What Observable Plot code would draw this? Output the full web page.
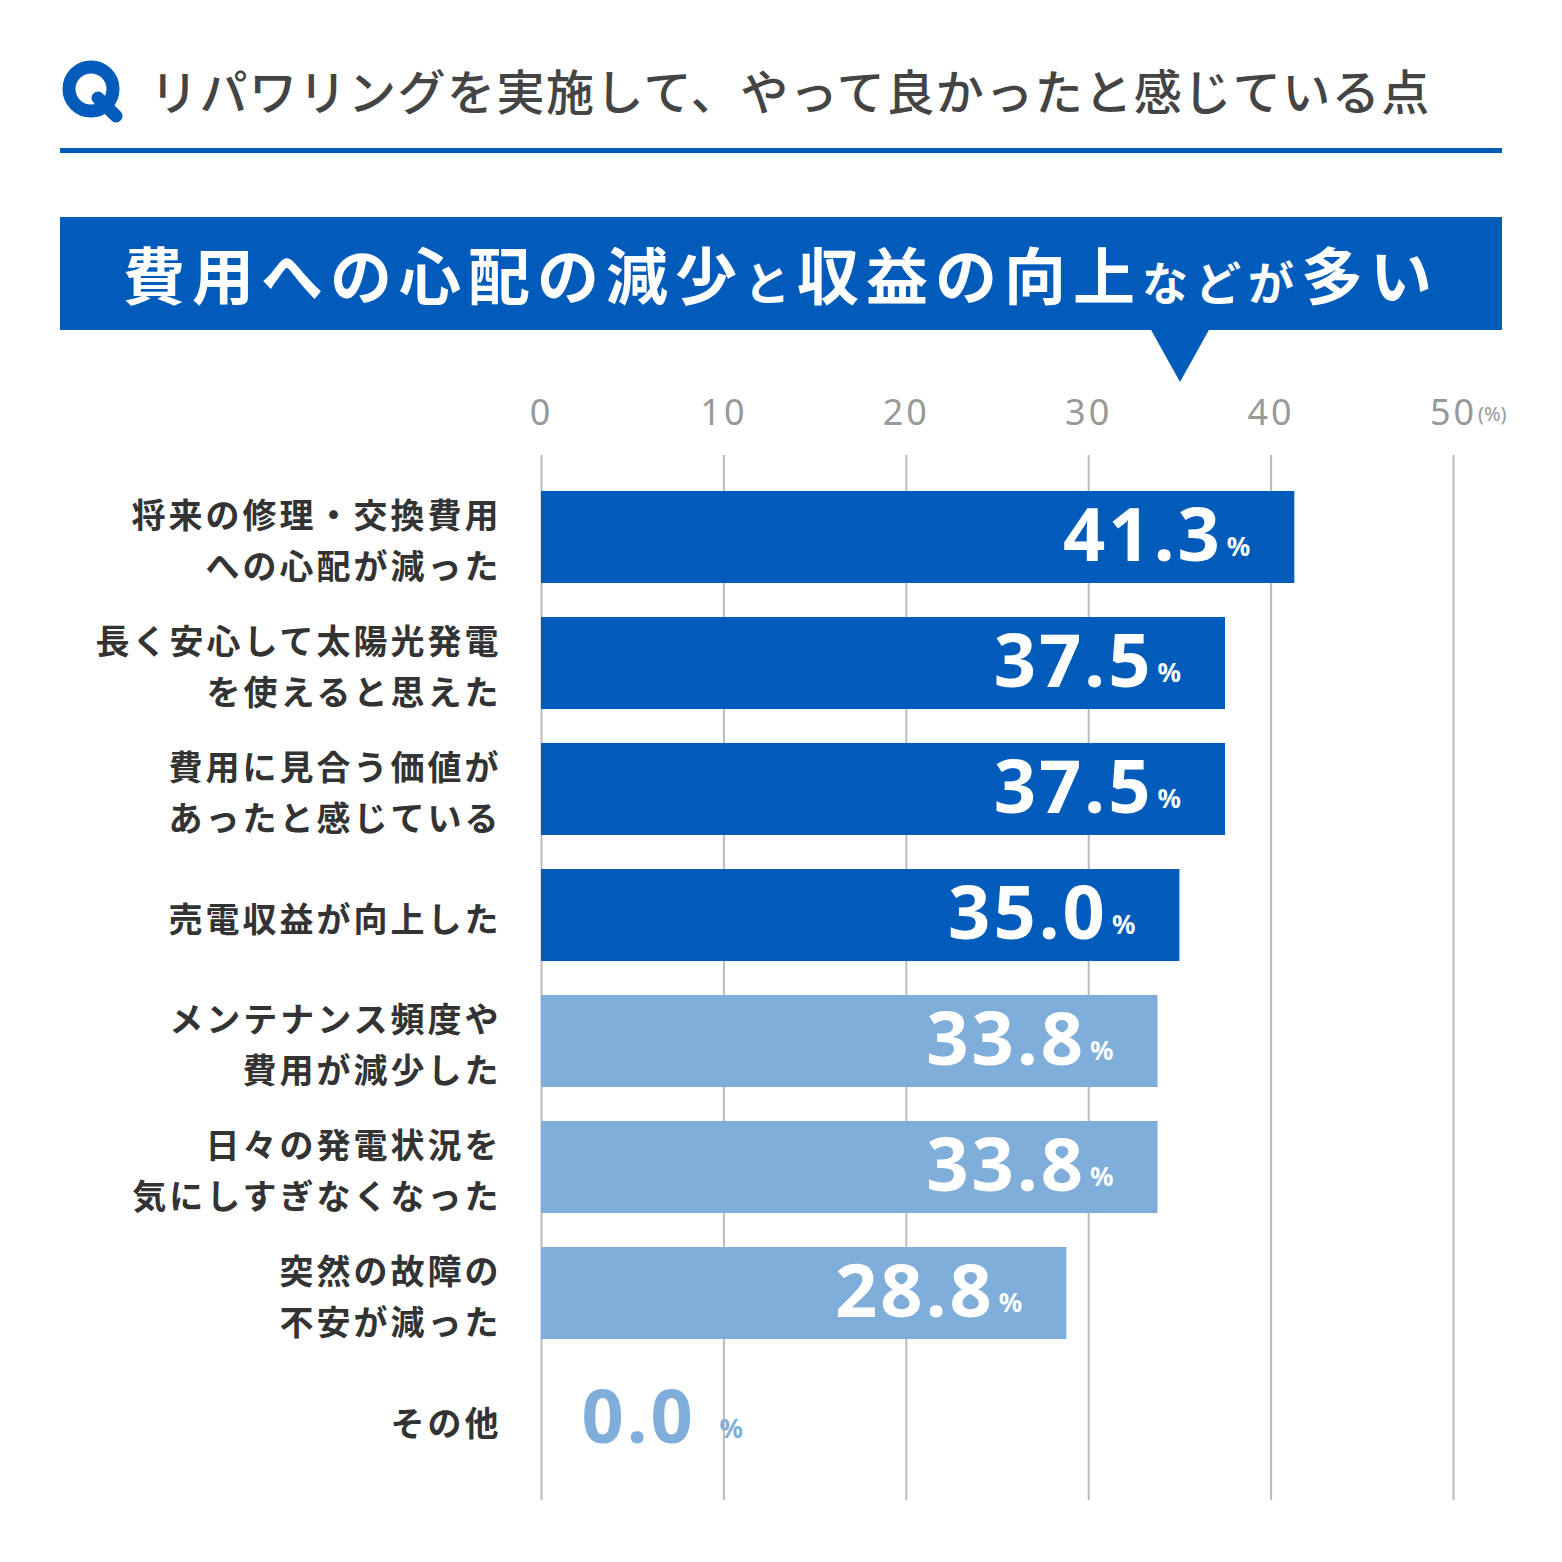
<!DOCTYPE html>
<html><head><meta charset="utf-8">
<script src="https://cdn.jsdelivr.net/npm/d3@7"></script>
<script src="https://cdn.jsdelivr.net/npm/@observablehq/plot@0.6"></script>
<style>
body{margin:0;background:#fff;font-family:"Noto Sans CJK JP",sans-serif;}
#wrap{position:relative;width:1562px;height:1562px;overflow:hidden;}
.abs{position:absolute;}
.lbl text{letter-spacing:3px;}
.num text{letter-spacing:3px;}
</style></head><body>
<div id="wrap">
  <div class="abs" style="left:60px;top:58px;width:66px;height:66px;">
    <svg width="66" height="66"><circle cx="31" cy="31" r="22" fill="none" stroke="#005BBB" stroke-width="13"/><path d="M38 40 L56 58" stroke="#005BBB" stroke-width="13" stroke-linecap="round"/></svg>
  </div>
  <div class="abs" style="left:150px;top:54px;font-size:48px;font-weight:500;color:#444;letter-spacing:1.5px;white-space:nowrap;">リパワリングを実施して、やって良かったと感じている点</div>
  <div class="abs" style="left:60px;top:148px;width:1442px;height:5px;background:#005BBB;"></div>
  <div class="abs" style="left:60px;top:217px;width:1442px;height:113px;background:#005BBB;"></div>
  <svg class="abs" style="left:1150px;top:328px" width="62" height="56"><polygon points="0,0 60,0 30,54" fill="#005BBB"/></svg>
  <div class="abs" style="left:60px;top:217px;width:1442px;height:113px;line-height:113px;text-align:center;color:#fff;font-weight:bold;font-size:62px;letter-spacing:7px;white-space:nowrap;">費用への心配の減少<span style="font-size:46px">と</span>収益の向上<span style="font-size:46px">などが</span>多い</div>
  <div class="abs" style="left:1478px;top:400px;font-size:20px;color:#999;font-family:'Noto Sans',sans-serif;">(%)</div>
  <div id="chart" class="abs" style="left:0;top:370px;"></div>
</div>
<script>
const categories = ["将来の修理・交換費用\nへの心配が減った","長く安心して太陽光発電\nを使えると思えた","費用に見合う価値が\nあったと感じている","売電収益が向上した","メンテナンス頻度や\n費用が減少した","日々の発電状況を\n気にしすぎなくなった","突然の故障の\n不安が減った","その他"];
const values = [41.3,37.5,37.5,35.0,33.8,33.8,28.8,0.0];
const highlight = [true,true,true,true,false,false,false,false];
const ticks = [0,10,20,30,40,50];
const data = categories.map((c,i)=>({c,v:values[i],h:highlight[i]}));
const dark="#005BBB", light="#80AEDB";
const nf="'Noto Sans',sans-serif";
const pos = data.filter(d=>d.v>0), zero=data.filter(d=>d.v===0);
const p = Plot.plot({
  width:1562,height:1130,marginLeft:541,marginRight:109,marginTop:85,marginBottom:0,
  x:{domain:[0,50],axis:null},
  y:{domain:categories,axis:null,paddingInner:0.27,paddingOuter:0.26},
  marks:[
    Plot.ruleX(ticks,{x:d=>d,stroke:"#bbb",strokeWidth:2}),
    Plot.text(ticks,{x:d=>d,frameAnchor:"top",dy:-56,text:d=>String(d),fill:"#999",fontSize:36,fontFamily:nf,className:"num"}),
    Plot.barX(pos,{y:"c",x:"v",fill:d=>d.h?dark:light}),
    Plot.text(data,{y:"c",x:0,text:"c",dx:-40,textAnchor:"end",fontSize:34,fontWeight:"bold",fill:"#333",lineHeight:1.5,fontFamily:"Noto Sans CJK JP",className:"lbl"}),
    Plot.text(pos,{y:"c",x:"v",text:d=>d.v.toFixed(1),dx:-72,textAnchor:"end",fill:"#fff",fontSize:74,fontWeight:"bold",fontFamily:nf,className:"num"}),
    Plot.text(pos,{y:"c",x:"v",text:()=>"%",dx:-68,dy:10,textAnchor:"start",fill:"#fff",fontSize:26,fontWeight:"bold",fontFamily:nf}),
    Plot.text(zero,{y:"c",x:0,text:d=>d.v.toFixed(1),dx:40,textAnchor:"start",fill:light,fontSize:74,fontWeight:"bold",fontFamily:nf,className:"num"}),
    Plot.text(zero,{y:"c",x:0,text:()=>"%",dx:178,dy:10,textAnchor:"start",fill:light,fontSize:26,fontWeight:"bold",fontFamily:nf})
  ]
});
document.getElementById("chart").appendChild(p);
</script>
</body></html>
